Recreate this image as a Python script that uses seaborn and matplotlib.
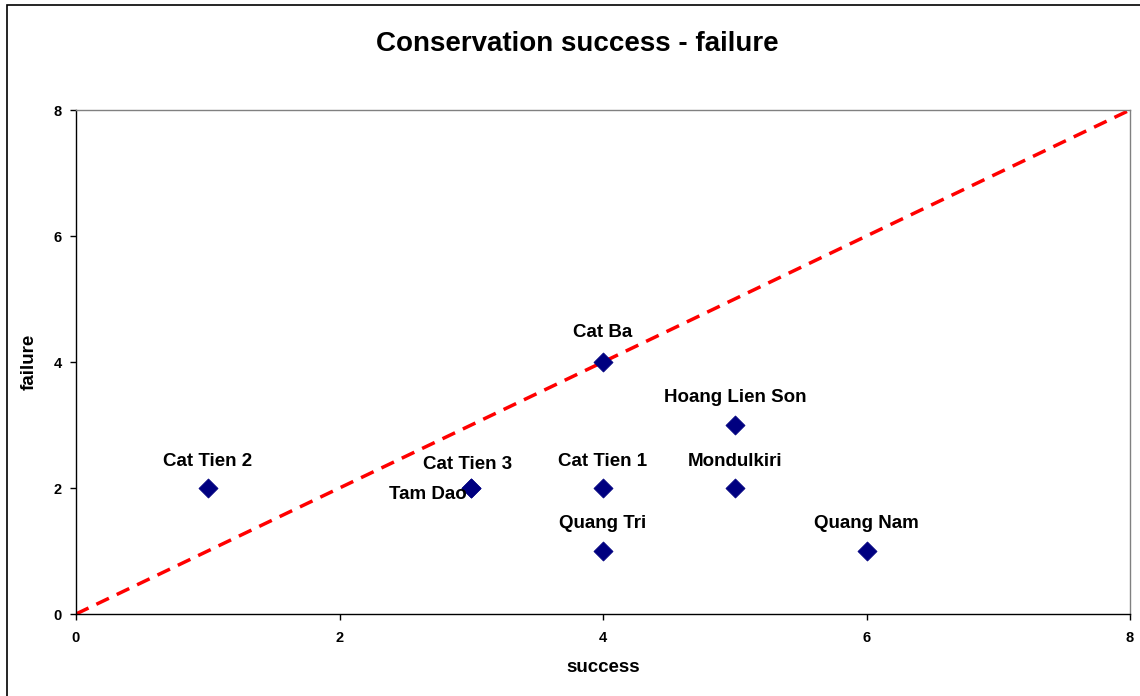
import numpy as np
import matplotlib
matplotlib.use("Agg")
import matplotlib.pyplot as plt
import seaborn as sns
import pandas as pd

sites = ["Cat Tien 2", "Cat Tien 3", "Tam Dao", "Cat Ba", "Cat Tien 1",
         "Quang Tri", "Hoang Lien Son", "Mondulkiri", "Quang Nam"]
success = [1, 3, 3, 4, 4, 4, 5, 5, 6]
failure = [2, 2, 2, 4, 2, 1, 3, 2, 1]
# label offsets in points (dx, dy)
offsets = [(0, 19), (-3, 17), (-31, -5), (0, 21), (0, 19), (0, 20), (0, 20), (0, 19), (0, 20)]

df = pd.DataFrame({"site": sites, "success": success, "failure": failure})

sns.set_style("white")
plt.rcParams['font.family'] = ['Liberation Sans', 'DejaVu Sans']
plt.rcParams.update({'text.color': 'black', 'axes.labelcolor': 'black',
                     'xtick.color': 'black', 'ytick.color': 'black'})

fig = plt.figure(figsize=(11.4, 6.96), dpi=100)
ax = fig.add_axes([76 / 1140, 1 - 614 / 696, (1130 - 76) / 1140, (614 - 110) / 696])

# diagonal reference line
ax.plot([0, 8], [0, 8], color="#ff0000", linestyle=(0, (4, 2.5)), linewidth=2.5, zorder=2)

sns.scatterplot(data=df, x="success", y="failure", marker="D", color="#000080",
                s=95, edgecolor="#000080", linewidth=0.5, ax=ax, zorder=3)

for s, xv, yv, (dx, dy) in zip(sites, success, failure, offsets):
    ax.annotate(s, (xv, yv), xytext=(dx, dy), textcoords="offset points",
                ha="center", va="center", fontsize=13.5, fontweight="bold")

ax.set_xlim(0, 8)
ax.set_ylim(0, 8)
ax.set_xticks([0, 2, 4, 6, 8])
ax.set_yticks([0, 2, 4, 6, 8])
ax.tick_params(axis="both", which="both", length=4, width=1, direction="out",
               labelsize=10.5, color="black", bottom=True, left=True)
for lbl in ax.get_xticklabels() + ax.get_yticklabels():
    lbl.set_fontweight("bold")
ax.tick_params(axis="x", pad=8)
ax.tick_params(axis="y", pad=6)

ax.spines["left"].set_color("black")
ax.spines["bottom"].set_color("black")
ax.spines["top"].set_color("#808080")
ax.spines["right"].set_color("#808080")
for sp in ax.spines.values():
    sp.set_linewidth(1)

ax.set_xlabel("success", fontsize=13.5, fontweight="bold", labelpad=10)
ax.set_ylabel("failure", fontsize=13.5, fontweight="bold", labelpad=12)

fig.text(577 / 1140, 1 - 44 / 696, "Conservation success - failure",
         ha="center", va="center", fontsize=20, fontweight="bold")

# outer chart border
border = matplotlib.patches.Rectangle((7 / 1140, -0.05), 1.2, 1 - 5 / 696 + 0.05,
                                      transform=fig.transFigure, fill=False,
                                      edgecolor="black", linewidth=1.2)
fig.patches.append(border)

fig.savefig("out.png", dpi=100)
